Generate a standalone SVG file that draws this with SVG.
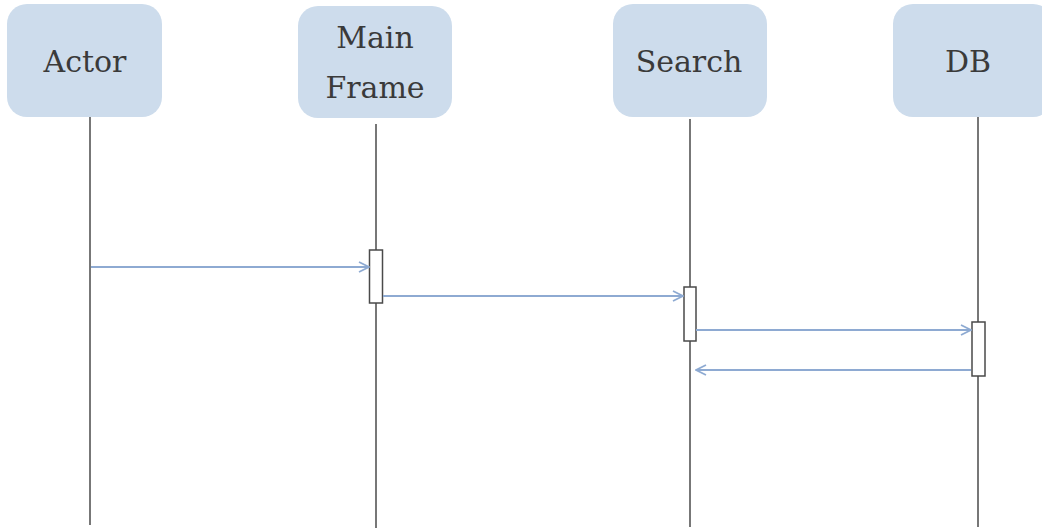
<svg xmlns="http://www.w3.org/2000/svg" width="1042" height="530" viewBox="0 0 1042 530">
<style>
.box{fill:#cddcec;}
.lbl{font-family:"DejaVu Serif","Liberation Serif",serif;font-size:30px;fill:#3a3a3a;text-anchor:middle;}
.life{stroke:#4a4a4a;stroke-width:1.5;fill:none;}
.act{fill:#fff;stroke:#4a4a4a;stroke-width:1.5;}
.msg{stroke:#8eaad2;stroke-width:1.8;fill:none;marker-end:url(#ah);}
</style>
<defs>
<marker id="ah" viewBox="0 0 12 12" refX="11" refY="6" markerWidth="12" markerHeight="12" markerUnits="userSpaceOnUse" orient="auto">
<path d="M1,1 L11,6 L1,11" fill="none" stroke="#8eaad2" stroke-width="1.8"/>
</marker>
</defs>
<rect width="1042" height="530" fill="#fff"/>
<g id="actor">
<rect class="box" x="7" y="4" width="155" height="113" rx="20"/>
<text class="lbl" x="85" y="72">Actor</text>
<line class="life" x1="90" y1="117" x2="90" y2="525"/>
</g>
<g id="mainframe">
<rect class="box" x="298" y="6" width="154" height="112" rx="20"/>
<text class="lbl" x="375" y="48">Main</text>
<text class="lbl" x="375" y="98">Frame</text>
<line class="life" x1="376" y1="124" x2="376" y2="528"/>
<rect class="act" x="369.5" y="250" width="13" height="53"/>
</g>
<g id="search">
<rect class="box" x="613" y="4" width="154" height="113" rx="20"/>
<text class="lbl" x="689" y="72">Search</text>
<line class="life" x1="690" y1="119" x2="690" y2="527"/>
<rect class="act" x="684" y="287" width="12" height="54"/>
</g>
<g id="db">
<rect class="box" x="893" y="4" width="160" height="113" rx="20"/>
<text class="lbl" x="968" y="72">DB</text>
<line class="life" x1="978" y1="117" x2="978" y2="527"/>
<rect class="act" x="972" y="322" width="13" height="54"/>
</g>
<g id="connectors">
<line class="msg" x1="91" y1="267" x2="369" y2="267"/>
<line class="msg" x1="383" y1="296" x2="683" y2="296"/>
<line class="msg" x1="696" y1="330" x2="971" y2="330"/>
<line class="msg" x1="971" y1="370" x2="696" y2="370"/>
</g>
</svg>
